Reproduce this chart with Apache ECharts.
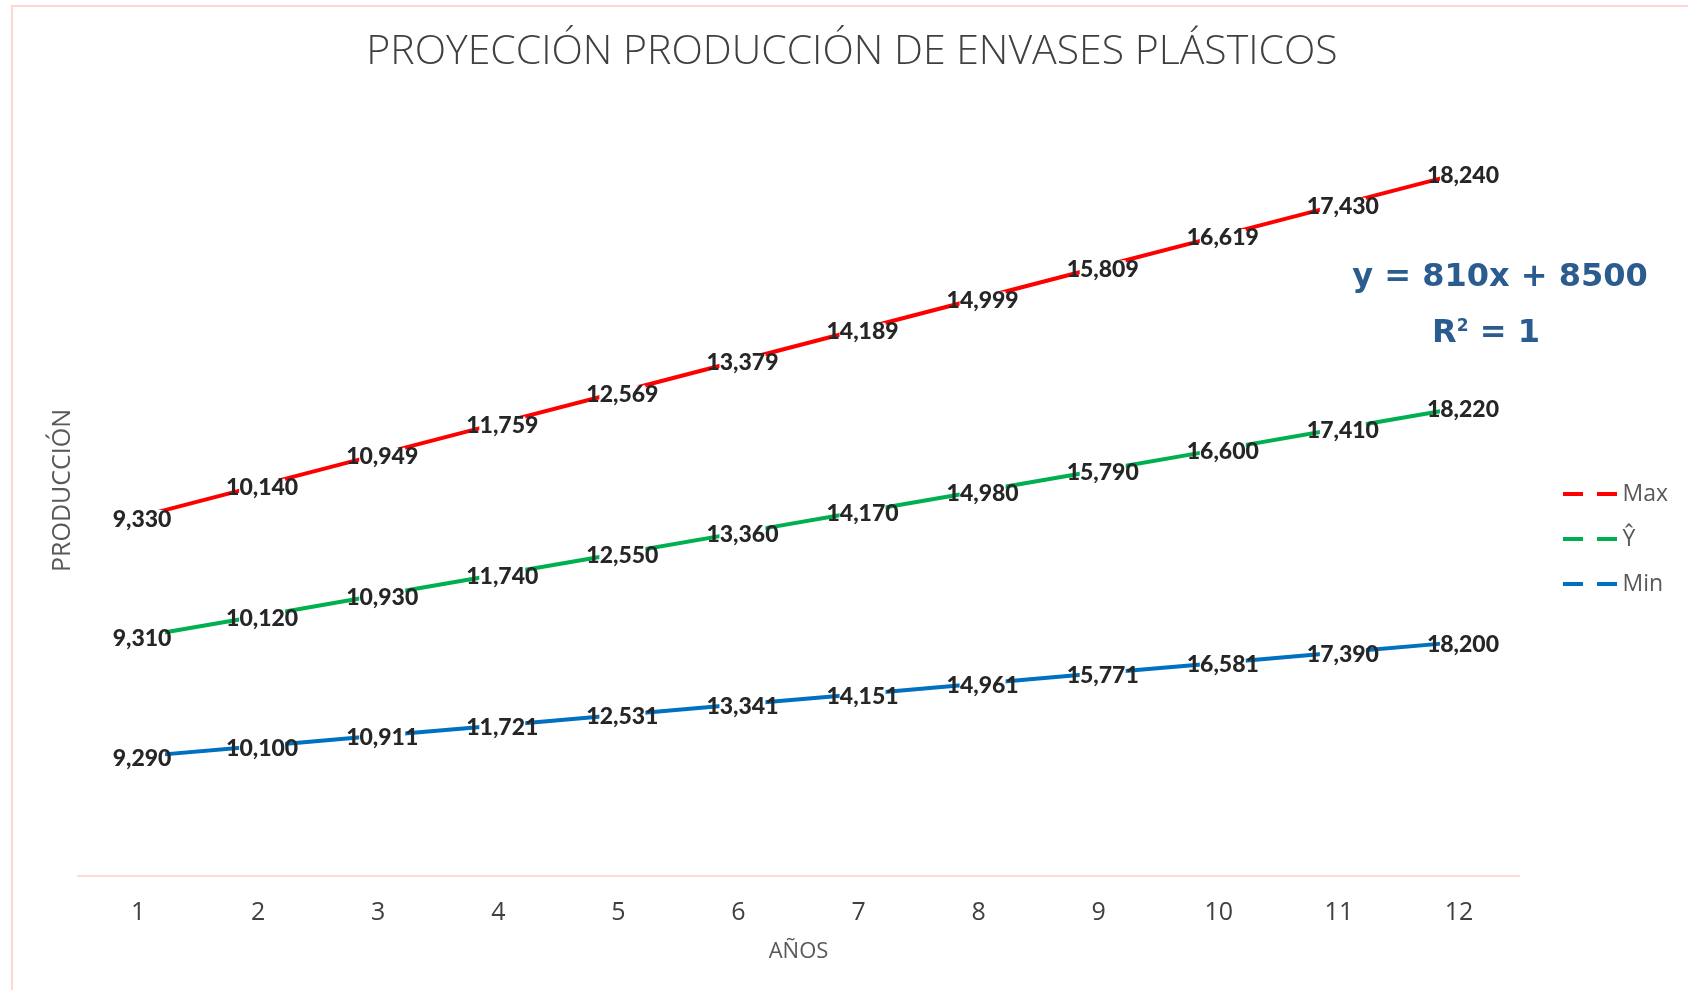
<!DOCTYPE html>
<html>
<head>
<meta charset="utf-8">
<title>Proyección producción de envases plásticos</title>
<script src="https://cdn.jsdelivr.net/npm/echarts@6/dist/echarts.min.js"></script>
<style>
  html, body { margin: 0; padding: 0; background: #ffffff; }
  #chart { width: 1688px; height: 990px; }
</style>
</head>
<body>
<div id="chart"></div>
<script>
// Años de la proyección
const anios = ['1', '2', '3', '4', '5', '6', '7', '8', '9', '10', '11', '12'];

// Producción proyectada (Ŷ) y sus límites
const serieMax = [9330, 10140, 10949, 11759, 12569, 13379, 14189, 14999, 15809, 16619, 17430, 18240];
const serieY   = [9310, 10120, 10930, 11740, 12550, 13360, 14170, 14980, 15790, 16600, 17410, 18220];
const serieMin = [9290, 10100, 10911, 11721, 12531, 13341, 14151, 14961, 15771, 16581, 17390, 18200];

const tituloTexto = 'PROYECCIÓN PRODUCCIÓN DE ENVASES PLÁSTICOS';
const ecuacion = 'y = 810x + 8500';

const FONT = 'Lato, "Noto Sans", sans-serif';
const FONT_TITULO = '"Open Sans", Lato, sans-serif';

const chart = echarts.init(document.getElementById('chart'), null, { renderer: 'canvas' });

function etiqueta() {
  return {
    show: true,
    position: 'inside',
    offset: [4, 2],
    formatter: p => p.value.toLocaleString('en-US'),
    fontFamily: FONT,
    fontWeight: 900,
    fontSize: 23,
    color: '#262626',
    backgroundColor: '#ffffff',
    width: 46,
    height: 18,
    lineHeight: 18,
    overflow: 'none',
    padding: 0,
    align: 'center',
    verticalAlign: 'middle'
  };
}

function serie(nombre, datos, color) {
  return {
    name: nombre,
    type: 'line',
    stack: 'total',
    data: datos,
    symbol: 'circle',
    symbolSize: 0.1,
    showSymbol: true,
    itemStyle: { color: color },
    lineStyle: { color: color, width: 4 },
    label: etiqueta(),
    emphasis: { disabled: true },
    z: 2
  };
}

const dashIcon = 'path://M0,0H20V4H0Z M34,0H54V4H34Z';

chart.setOption({
  animation: false,
  backgroundColor: '#ffffff',
  grid: { left: 78, right: 169, top: 105, bottom: 114, containLabel: false },
  legend: {
    orient: 'vertical',
    left: 1558,
    top: 476,
    itemWidth: 55,
    itemHeight: 4,
    itemGap: 19,
    icon: dashIcon,
    data: [
      { name: 'Max', icon: dashIcon },
      { name: 'Ŷ', icon: dashIcon },
      { name: 'Min', icon: dashIcon }
    ],
    textStyle: { fontFamily: FONT_TITULO, fontSize: 23, color: '#595959', lineHeight: 26, padding: [0, 0, 0, 0] },
    selectedMode: false
  },
  xAxis: {
    type: 'category',
    data: anios,
    boundaryGap: true,
    name: 'AÑOS',
    nameLocation: 'middle',
    nameGap: 65,
    nameTextStyle: { fontFamily: FONT_TITULO, fontSize: 22, color: '#595959' },
    axisLine: { show: true, lineStyle: { color: '#FFD9D9', width: 2 } },
    axisTick: { show: false },
    axisLabel: { fontFamily: FONT_TITULO, fontSize: 25, color: '#404040', margin: 24 }
  },
  yAxis: {
    type: 'value',
    min: 0,
    max: 60000,
    name: 'PRODUCCIÓN',
    nameLocation: 'middle',
    nameGap: 3,
    nameTextStyle: { fontFamily: FONT_TITULO, fontSize: 25, color: '#595959' },
    axisLine: { show: false },
    axisTick: { show: false },
    axisLabel: { show: false },
    splitLine: { show: false }
  },
  series: [
    serie('Min', serieMin, '#0070C0'),
    serie('Ŷ', serieY, '#00B050'),
    serie('Max', serieMax, '#FF0000')
  ],
  graphic: [
    {
      type: 'rect',
      shape: { x: 12, y: 6, width: 1700, height: 1000 },
      style: { fill: 'none', stroke: '#FFD5D5', lineWidth: 2 },
      silent: true,
      z: -1
    },
    {
      type: 'text',
      x: 852,
      y: 52,
      style: {
        text: tituloTexto,
        fontFamily: FONT_TITULO,
        fontWeight: 300,
        fontSize: 41,
        fill: '#404040',
        textAlign: 'center',
        textVerticalAlign: 'middle'
      },
      silent: true
    },
    {
      type: 'text',
      x: 1500,
      y: 278,
      style: {
        text: ecuacion,
        fontFamily: '"DejaVu Sans", sans-serif',
        fontWeight: 'bold',
        fontSize: 32,
        fill: '#2B5C8F',
        textAlign: 'center',
        textVerticalAlign: 'middle',
        textShadowColor: 'rgba(230,150,60,0.8)',
        textShadowOffsetX: -1,
        textShadowBlur: 0
      },
      silent: true
    },
    {
      type: 'text',
      x: 1486,
      y: 334,
      style: {
        text: 'R{sup|2} = 1',
        rich: {
          sup: {
            fontFamily: '"DejaVu Sans", sans-serif',
            fontWeight: 'bold',
            fontSize: 17,
            fill: '#2B5C8F',
            verticalAlign: 'top',
            padding: [0, 0, 14, 0]
          }
        },
        fontFamily: '"DejaVu Sans", sans-serif',
        fontWeight: 'bold',
        fontSize: 32,
        fill: '#2B5C8F',
        textAlign: 'center',
        textVerticalAlign: 'middle',
        textShadowColor: 'rgba(230,150,60,0.8)',
        textShadowOffsetX: -1,
        textShadowBlur: 0
      },
      silent: true
    }
  ]
});
</script>
</body>
</html>
